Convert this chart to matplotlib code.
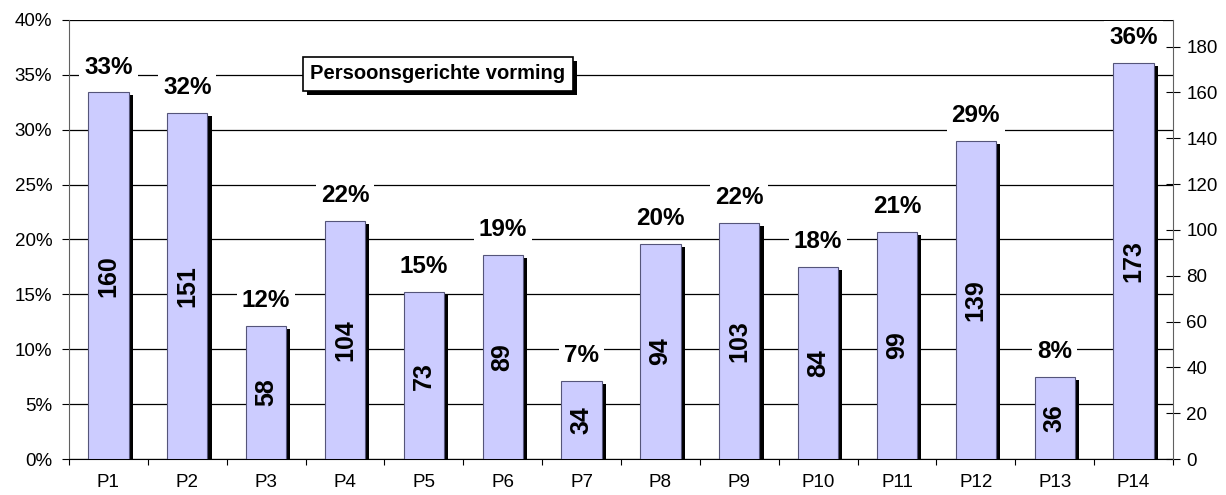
import matplotlib
matplotlib.use("Agg")
import matplotlib.pyplot as plt
import matplotlib.patheffects as pe
from matplotlib.ticker import FuncFormatter
import numpy as np

plt.rcParams['font.family'] = ['Liberation Sans', 'DejaVu Sans']

categories = ["P1", "P2", "P3", "P4", "P5", "P6", "P7", "P8", "P9", "P10", "P11", "P12", "P13", "P14"]
percentages = [33.4, 31.5, 12.1, 21.7, 15.2, 18.6, 7.1, 19.6, 21.5, 17.5, 20.7, 29.0, 7.5, 36.1]
counts = [160, 151, 58, 104, 73, 89, 34, 94, 103, 84, 99, 139, 36, 173]
total = 479
title_text = "Persoonsgerichte vorming"
left_ticks = [0, 5, 10, 15, 20, 25, 30, 35, 40]
right_ticks = [0, 20, 40, 60, 80, 100, 120, 140, 160, 180]

fig = plt.figure(figsize=(12.26, 4.95), dpi=100)
ax = fig.add_axes([69/1226, 1-459/495, (1173-69)/1226, (459-20)/495])

x = np.arange(len(categories))
ax.set_xlim(-0.5, len(categories)-0.5)
ax.set_ylim(0, 40)

# gridlines
ax.set_yticks(left_ticks)
ax.yaxis.grid(True, color='black', linewidth=0.9)
ax.set_axisbelow(True)

shadow = [pe.SimplePatchShadow(offset=(3.0, -2.2), shadow_rgbFace='black', alpha=1.0), pe.Normal()]
bars = ax.bar(x, percentages, width=0.51, color='#CCCCFF', edgecolor='#55557a', linewidth=0.8, zorder=3)
for b in bars:
    b.set_path_effects(shadow)

for xi, p, c in zip(x, percentages, counts):
    ax.annotate(f"{round(p):d}%", (xi, p), xytext=(0, 10), textcoords='offset points',
                ha='center', va='bottom', fontsize=17.5, fontweight='bold', zorder=5,
                bbox=dict(boxstyle='square,pad=0.2', fc='white', ec='none'))
    ax.text(xi, p/2, f"{c}", rotation=90, ha='center', va='center', fontsize=18,
            fontweight='bold', zorder=5)

# spines
ax.spines['top'].set_visible(False)
ax.spines['left'].set_color('#606060')
ax.spines['right'].set_visible(False)
ax.spines['bottom'].set_color('black')

ax.yaxis.set_major_formatter(FuncFormatter(lambda v, _: f"{v:.0f}%"))
ax.tick_params(axis='y', direction='out', length=5, width=0.8, pad=7, labelsize=13.5, color='black')

ax.set_xticks(np.arange(len(categories)+1)-0.5)
ax.set_xticklabels([])
ax.set_xticks(x, minor=True)
ax.set_xticklabels(categories, minor=True)
ax.tick_params(axis='x', which='major', direction='out', length=4, width=0.8)
ax.tick_params(axis='x', which='minor', length=0, pad=11, labelsize=13.5)

ax2 = ax.twinx()
ax2.set_ylim(0, total*0.40)
ax2.set_yticks(right_ticks)
for s in ['top', 'left', 'bottom']:
    ax2.spines[s].set_visible(False)
ax2.spines['right'].set_color('#606060')
ax2.tick_params(axis='y', direction='inout', length=9.4, width=0.8, pad=5, labelsize=13.5, color='black')

# title box
t = ax.text(0.334, 0.877, title_text, transform=ax.transAxes, ha='center', va='center',
            fontsize=14.5, fontweight='bold', zorder=6,
            bbox=dict(boxstyle='square,pad=0.36', fc='white', ec='black', lw=1.2))
t.get_bbox_patch().set_path_effects([pe.SimplePatchShadow(offset=(3, -3), shadow_rgbFace='black', alpha=1.0), pe.Normal()])

fig.savefig("out.png", dpi=100)
